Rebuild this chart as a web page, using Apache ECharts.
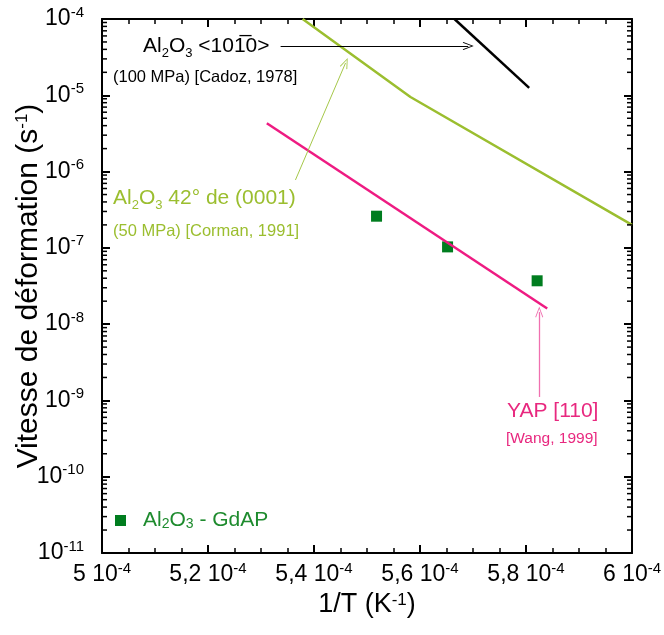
<!DOCTYPE html>
<html>
<head>
<meta charset="utf-8">
<script src="https://cdn.jsdelivr.net/npm/echarts@6/dist/echarts.min.js"></script>
<style>html,body{margin:0;padding:0;background:#fff}#c{width:664px;height:635px}</style>
</head>
<body>
<div id="c"></div>
<script>
// ---- data ----
const xTickLabels = ['5', '5,2', '5,4', '5,6', '5,8', '6'];
const yTickExponents = [-11, -10, -9, -8, -7, -6, -5, -4];
const minorMantissas = [2, 3, 4, 5, 6, 7, 8, 9];

const cadozX = [5.665e-4, 5.806e-4];
const cadozY = [1.0e-4, 1.25e-5];

const cormanX = [5.3785e-4, 5.582e-4, 6.0e-4];
const cormanY = [1.0e-4, 9.5e-6, 2.0e-7];

const wangX = [5.311e-4, 5.840e-4];
const wangY = [4.3e-6, 1.6e-8];

const gdapX = [5.518e-4, 5.652e-4, 5.821e-4];
const gdapY = [2.6e-7, 1.03e-7, 3.7e-8];

// annotation arrows [x1, y1, x2, y2]
const cadozArrow = [5.337e-4, 4.43e-5, 5.691e-4, 4.43e-5];
const cormanArrow = [5.365e-4, 7.76e-7, 5.4595e-4, 2.65e-5];
const wangArrow = [5.825e-4, 1.11e-9, 5.825e-4, 1.44e-8];

// ---- helpers ----
const X_MIN = 5e-4, X_MAX = 6e-4;
const zip = (xs, ys) => xs.map((x, i) => [x, ys[i]]);
const minorTicks = [];
yTickExponents.slice(0, -1).forEach(e => minorMantissas.forEach(m => {
  minorTicks.push([X_MIN, m * Math.pow(10, e)]);
  minorTicks.push([X_MAX, m * Math.pow(10, e)]);
}));

const FONT = 'Liberation Sans, Arial, sans-serif';
const GREEN_L = '#9BBE2F';
const PINK = '#EE1B82';
const PINK_T = '#E8287F';
const GREEN_D = '#007D1F';
const openArrow = 'path://M0,10 L5,0 L10,10 L9,10.6 L5,2.2 L1,10.6 Z';

function arrow(a, color, w) {
  return {
    silent: true,
    symbol: ['none', openArrow],
    symbolSize: [8, 11],
    label: { show: false },
    lineStyle: { color: color, width: w, type: 'solid' },
    itemStyle: { color: color },
    emphasis: { disabled: true },
    animation: false,
    data: [[{ coord: [a[0], a[1]] }, { coord: [a[2], a[3]] }]]
  };
}

const tickRich = {
  b: { fontFamily: FONT, fontSize: 23, color: '#000', lineHeight: 28 },
  sup: { fontFamily: FONT, fontSize: 15, color: '#000', verticalAlign: 'top', lineHeight: 16 }
};
const titleRich = { s: { fontFamily: FONT, fontSize: 17, verticalAlign: 'top', lineHeight: 17, color: '#000' } };

const chart = echarts.init(document.getElementById('c'), null, { renderer: 'canvas' });
const axisLineStyle = { color: '#000', width: 2 };

chart.setOption({
  animation: false,
  backgroundColor: '#fff',
  grid: { left: 102, right: 32, top: 19, bottom: 82, containLabel: false, outerBoundsMode: 'none' },
  xAxis: [{
    type: 'value', min: X_MIN, max: X_MAX, interval: 0.2e-4,
    name: '1/T (K{s|-1})', nameLocation: 'middle', nameGap: 36,
    nameTextStyle: { fontFamily: FONT, fontSize: 27, color: '#000', rich: titleRich },
    axisLine: { lineStyle: axisLineStyle },
    axisTick: { inside: true, length: 8, lineStyle: { color: '#000', width: 2 } },
    minorTick: { show: true, splitNumber: 4, length: 5, lineStyle: { color: '#000', width: 1.5 } },
    splitLine: { show: false },
    axisLabel: {
      margin: 8, hideOverlap: false,
      formatter: v => '{b|' + xTickLabels[Math.round((v - X_MIN) / 0.2e-4)] + ' 10}{sup|-4}',
      rich: tickRich
    }
  }, {
    type: 'value', min: X_MIN, max: X_MAX, interval: 0.2e-4, position: 'top',
    axisLine: { lineStyle: axisLineStyle },
    axisTick: { inside: true, length: 8, lineStyle: { color: '#000', width: 2 } },
    minorTick: { show: true, splitNumber: 4, length: 5, lineStyle: { color: '#000', width: 1.5 } },
    splitLine: { show: false },
    axisLabel: { show: false }
  }],
  yAxis: [{
    type: 'log', logBase: 10, min: 1e-11, max: 1e-4,
    name: 'Vitesse de déformation (s{s|-1})', nameLocation: 'middle', nameGap: 58, nameRotate: 90,
    nameMoveOverlap: false,
    nameTextStyle: { fontFamily: FONT, fontSize: 30, color: '#000', rich: titleRich },
    axisLine: { lineStyle: axisLineStyle },
    axisTick: { inside: true, length: 8, lineStyle: { color: '#000', width: 2 } },
    splitLine: { show: false },
    axisLabel: {
      margin: 18,
      formatter: v => '{b|10}{sup|' + Math.round(Math.log10(v)) + '}',
      rich: tickRich
    }
  }, {
    type: 'log', logBase: 10, min: 1e-11, max: 1e-4, position: 'right',
    axisLine: { lineStyle: axisLineStyle },
    axisTick: { inside: true, length: 8, lineStyle: { color: '#000', width: 2 } },
    splitLine: { show: false },
    axisLabel: { show: false }
  }],
  legend: {
    left: 110, top: 505, orient: 'vertical',
    data: ['Al2O3 - GdAP'],
    icon: 'rect', itemWidth: 11, itemHeight: 11,
    formatter: () => 'Al{sub|2}O{sub|3} - GdAP',
    textStyle: {
      fontFamily: FONT, fontSize: 21, color: '#1E8B2E', padding: [0, 0, 0, 12],
      rich: {
        sub: { fontFamily: FONT, fontSize: 14, color: '#1E8B2E', verticalAlign: 'bottom', lineHeight: 14 }
      }
    },
    selectedMode: false
  },
  series: [{
    name: 'Cadoz', type: 'line', data: zip(cadozX, cadozY), symbol: 'none',
    lineStyle: { color: '#000', width: 2.5 }, clip: true,
    markLine: arrow(cadozArrow, '#000', 1)
  }, {
    name: 'Corman', type: 'line', data: zip(cormanX, cormanY), symbol: 'none',
    lineStyle: { color: GREEN_L, width: 2.5 }, clip: true,
    markLine: arrow(cormanArrow, '#A6C84A', 1)
  }, {
    name: 'Wang', type: 'line', data: zip(wangX, wangY), symbol: 'none',
    lineStyle: { color: PINK, width: 2.5 }, clip: true,
    markLine: arrow(wangArrow, '#F070B0', 1.3)
  }, {
    name: 'Al2O3 - GdAP', type: 'scatter', data: zip(gdapX, gdapY),
    symbol: 'rect', symbolSize: 11, itemStyle: { color: GREEN_D, opacity: 1 }
  }, {
    name: 'minorTicks', type: 'custom', data: minorTicks, silent: true, clip: false, z: 20,
    encode: { x: 0, y: 1 },
    renderItem: (params, api) => {
      const q = api.coord([api.value(0), api.value(1)]);
      const dir = api.value(0) < (X_MIN + X_MAX) / 2 ? 1 : -1;
      return {
        type: 'line',
        shape: { x1: q[0], y1: q[1], x2: q[0] + dir * 5, y2: q[1] },
        style: { stroke: '#000', lineWidth: 1.5 }
      };
    }
  }],
  graphic: [{
    type: 'text', left: 143, top: 36,
    style: {
      text: '{b|Al}{s|2}{b|O}{s|3}{b| <101\u03050>}',
      rich: {
        b: { fontFamily: FONT, fontSize: 21, fill: '#000', lineHeight: 26 },
        s: { fontFamily: FONT, fontSize: 13, fill: '#000', verticalAlign: 'bottom', lineHeight: 14 }
      }
    }
  }, {
    type: 'text', left: 113, top: 69,
    style: { text: '(100 MPa) [Cadoz, 1978]', fontFamily: FONT, fontSize: 16.5, fill: '#000' }
  }, {
    type: 'text', left: 113, top: 188,
    style: {
      text: '{b|Al}{s|2}{b|O}{s|3}{b| 42° de (0001)}',
      rich: {
        b: { fontFamily: FONT, fontSize: 21, fill: GREEN_L, lineHeight: 26 },
        s: { fontFamily: FONT, fontSize: 13, fill: GREEN_L, verticalAlign: 'bottom', lineHeight: 14 }
      }
    }
  }, {
    type: 'text', left: 113, top: 223,
    style: { text: '(50 MPa) [Corman, 1991]', fontFamily: FONT, fontSize: 16.5, fill: GREEN_L }
  }, {
    type: 'text', left: 507, top: 401,
    style: { text: 'YAP [110]', fontFamily: FONT, fontSize: 21, fill: PINK_T }
  }, {
    type: 'text', left: 506, top: 431,
    style: { text: '[Wang, 1999]', fontFamily: FONT, fontSize: 15.5, fill: PINK_T }
  }]
});
</script>
</body>
</html>
